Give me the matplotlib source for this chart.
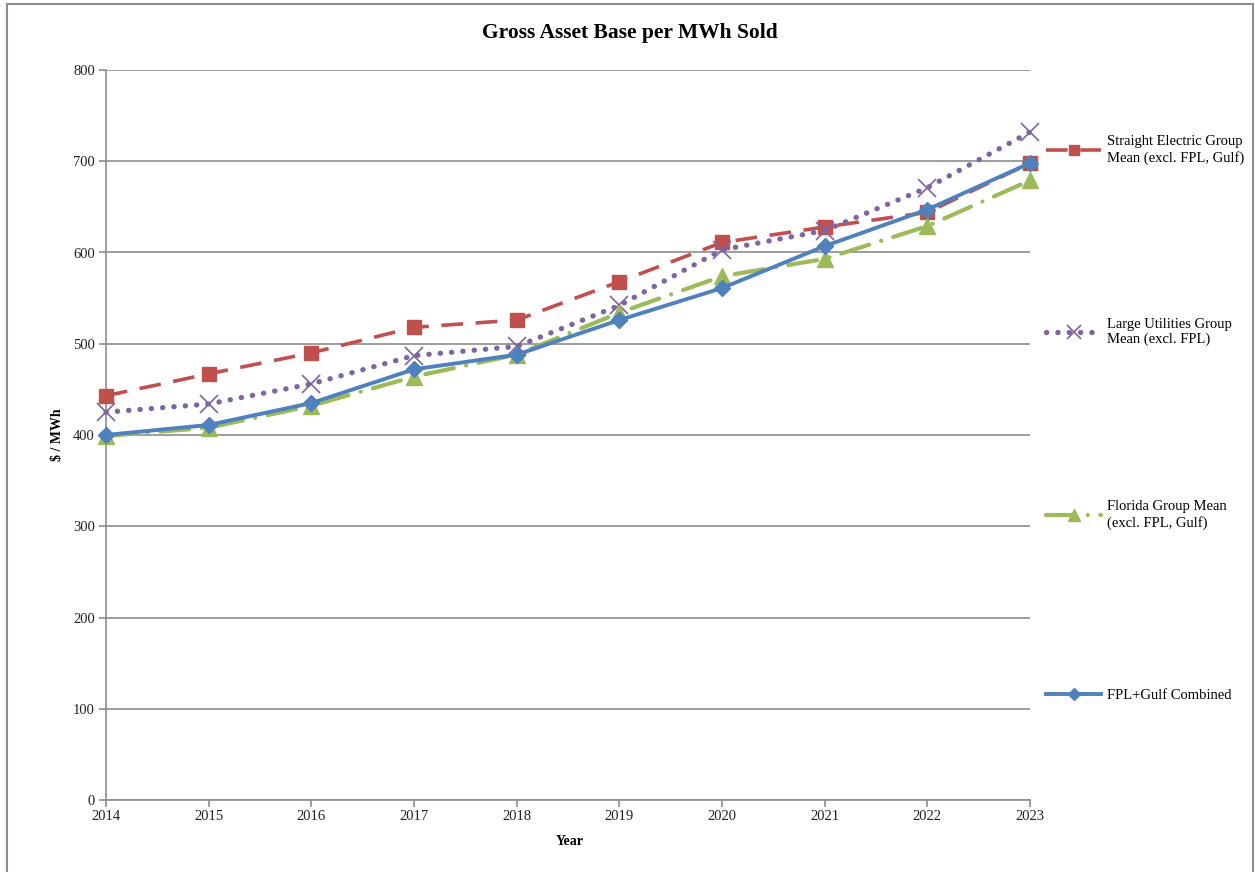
import matplotlib
matplotlib.use("Agg")
import matplotlib.pyplot as plt
from matplotlib.patches import Rectangle

plt.rcParams['font.family'] = ['Liberation Serif', 'DejaVu Serif']

years = [2014, 2015, 2016, 2017, 2018, 2019, 2020, 2021, 2022, 2023]
straight_electric = [443, 467, 490, 518, 526, 568, 611, 628, 644, 698]
large_utilities = [425, 434, 456, 487, 497, 542, 603, 624, 671, 732]
florida_group = [399, 408, 432, 464, 488, 534, 574, 593, 629, 679]
fpl_gulf = [400, 411, 435, 472, 488, 526, 561, 607, 647, 698]

labels = ["Straight Electric Group\nMean (excl. FPL, Gulf)",
          "Large Utilities Group\nMean (excl. FPL)",
          "Florida Group Mean\n(excl. FPL, Gulf)",
          "FPL+Gulf Combined"]
y_ticks = [0, 100, 200, 300, 400, 500, 600, 700, 800]

red, purple, green, blue = "#C0504D", "#8064A2", "#9BBB59", "#4F81BD"
grid_c = "#8C8C8C"

fig = plt.figure(figsize=(12.55, 8.72), dpi=100)
ax = fig.add_axes([106/1255, 1-800/872, (1030-106)/1255, (800-70)/872])

styles = [
    dict(color=red, ls=(0, (6, 3.5)), marker='s', ms=10, lw=2.6, dash_capstyle='butt'),
    dict(color=purple, ls=(0, (0.05, 2.1)), marker='x', ms=13, mew=1.2, lw=3.8, dash_capstyle='round'),
    dict(color=green, ls=(0, (7, 3, 0.05, 3)), marker='^', ms=11, lw=3.0, dash_capstyle='round'),
    dict(color=blue, ls='-', marker='D', ms=8, lw=2.8),
]
series = [straight_electric, large_utilities, florida_group, fpl_gulf]
handles = []
for s, st, z in zip(series, styles, [3, 4, 5, 6]):
    l, = ax.plot(years, s, zorder=z, clip_on=False, **st)
    handles.append(l)

ax.set_xlim(2014, 2023)
ax.set_ylim(0, 800)
ax.set_yticks(y_ticks)
ax.set_xticks(years)
ax.grid(axis='y', color=grid_c, lw=1.2)
ax.set_axisbelow(True)
for sp in ['top', 'right']:
    ax.spines[sp].set_visible(False)
for sp in ['left', 'bottom']:
    ax.spines[sp].set_color(grid_c)
    ax.spines[sp].set_linewidth(1.2)
ax.tick_params(axis='both', colors=grid_c, labelcolor='#222222', labelsize=10.5, length=5, width=1.2)
ax.tick_params(axis='x', pad=2)
ax.tick_params(axis='y', pad=3)

fig.text(630/1255, 1 - 33/872, "Gross Asset Base per MWh Sold",
         ha='center', va='center', fontsize=15.5, fontweight='bold')
fig.text(58/1255, 1 - 435/872, "$ / MWh", rotation=90, ha='center', va='center',
         fontsize=10, fontweight='bold')
fig.text(570/1255, 1 - 841/872, "Year", ha='center', va='center', fontsize=10, fontweight='bold')

leg_y = [150, 332, 515, 695]
for h, lab, yy in zip(handles, labels, leg_y):
    fig.legend([h], [lab], loc='center left', bbox_to_anchor=(1046/1255, 1 - yy/872),
               frameon=False, fontsize=10.5, handlelength=3.8, handletextpad=0.4,
               borderpad=0, borderaxespad=0, markerscale=0.75)

fig.patches.append(Rectangle((7/1255, -0.1), (1253-7)/1255, 1.1 - 4/872,
                             transform=fig.transFigure, fill=False, ec='#8C8C8C', lw=1.5))

fig.savefig("out.png", dpi=100)
